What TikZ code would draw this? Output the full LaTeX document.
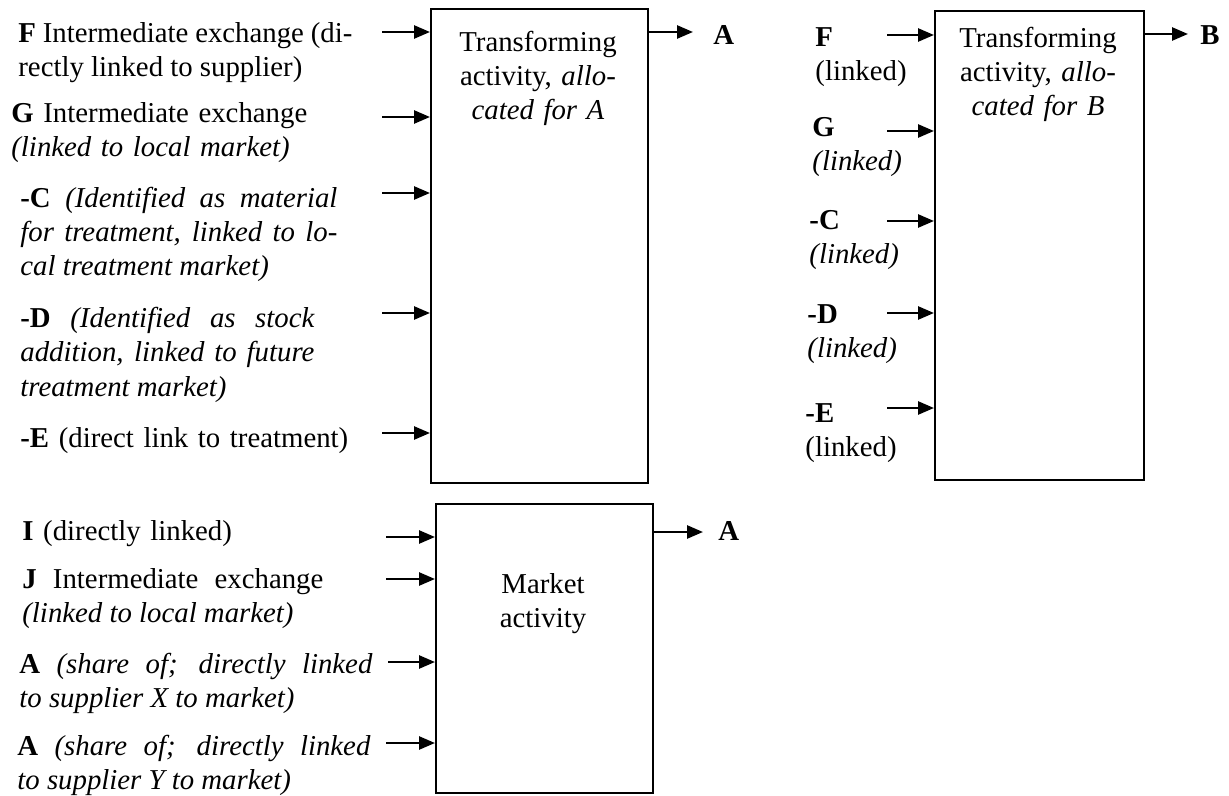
\documentclass[tikz,border=0pt]{standalone}
\usepackage{fontspec}
\setmainfont{Liberation Serif}
\usetikzlibrary{arrows.meta}

\tikzset{
    actbox/.style={draw=black, line width=1pt, inner sep=0pt, anchor=north west},
    lbl/.style={inner sep=0pt, anchor=base west, align=left, text width=#1},
    lbl/.default=60pt,
    jlbl/.style={inner sep=0pt, anchor=base west, align=justify, text width=#1},
    ttl/.style={inner sep=0pt, anchor=base, align=center, text width=#1},
    ttl/.default=100pt,
    arr/.style={line width=1.3pt, -{Triangle[length=8pt,width=6.5pt]}}
}

\begin{document}
\begin{tikzpicture}[x=0.5pt, y=-0.5pt, font=\fontsize{14.4pt}{17pt}\selectfont]
    \useasboundingbox (0,0) rectangle (1229,796);

    % transforming activity, allocated for A
    \node [actbox, minimum width=108.5pt, minimum height=237pt] (trA) at (430,8) {};
    \node [ttl] (trAtitle) at (538,52)
          {Transforming\\activity, \textit{allo-}\\\textit{cated for A}};

    \node [jlbl=167pt] (aF) at (18,43)
          {\textbf{F} Intermediate exchange (di-\linebreak rectly linked to supplier)};
    \node [lbl=170pt] (aG) at (11,123)
          {\textbf{G} Intermediate exchange\\\textit{(linked to local market)}};
    \node [jlbl=158.5pt] (aC) at (20,208)
          {\textbf{-C} \textit{(Identified as material\linebreak for treatment, linked to lo-\linebreak cal treatment market)}};
    \node [jlbl=147pt] (aD) at (20,328)
          {\textbf{-D} \textit{(Identified as stock\linebreak addition, linked to future\linebreak treatment market)}};
    \node [lbl=180pt] (aE) at (20,447) {\textbf{-E} (direct link to treatment)};
    \node [lbl] (outA) at (713,45) {\textbf{A}};

    \coordinate (inAF) at (382,32);
    \coordinate (inAG) at (382,117);
    \coordinate (inAC) at (382,193);
    \coordinate (inAD) at (382,313);
    \coordinate (inAE) at (382,433);
    \coordinate (endA) at (693,32);
    \draw [arr] (inAF) -- (inAF -| trA.west);
    \draw [arr] (inAG) -- (inAG -| trA.west);
    \draw [arr] (inAC) -- (inAC -| trA.west);
    \draw [arr] (inAD) -- (inAD -| trA.west);
    \draw [arr] (inAE) -- (inAE -| trA.west);
    \draw [arr] (endA -| trA.east) -- (endA);

    % transforming activity, allocated for B
    \node [actbox, minimum width=104.5pt, minimum height=234.5pt] (trB) at (934,10) {};
    \node [ttl] (trBtitle) at (1038,48)
          {Transforming\\activity, \textit{allo-}\\\textit{cated for B}};

    \node [lbl] (bF) at (815,47) {\textbf{F}\\(linked)};
    \node [lbl] (bG) at (812,137) {\textbf{G}\\\textit{(linked)}};
    \node [lbl] (bC) at (809,230) {\textbf{-C}\\\textit{(linked)}};
    \node [lbl] (bD) at (807,323) {\textbf{-D}\\\textit{(linked)}};
    \node [lbl] (bE) at (805,422) {\textbf{-E}\\(linked)};
    \node [lbl] (outB) at (1200,45) {\textbf{B}};

    \coordinate (inBF) at (887,35);
    \coordinate (inBG) at (887,131);
    \coordinate (inBC) at (887,221);
    \coordinate (inBD) at (887,313);
    \coordinate (inBE) at (887,408);
    \coordinate (endB) at (1188,34);
    \draw [arr] (inBF) -- (inBF -| trB.west);
    \draw [arr] (inBG) -- (inBG -| trB.west);
    \draw [arr] (inBC) -- (inBC -| trB.west);
    \draw [arr] (inBD) -- (inBD -| trB.west);
    \draw [arr] (inBE) -- (inBE -| trB.west);
    \draw [arr] (endB -| trB.east) -- (endB);

    % market activity
    \node [actbox, minimum width=108.5pt, minimum height=144.5pt] (mkt) at (435,503) {};
    \node [ttl] (mkttitle) at (543,593) {Market\\activity};

    \node [lbl=180pt] (mI) at (22,540) {\textbf{I} (directly linked)};
    \node [jlbl=150.5pt] (mJ) at (22,588)
          {\textbf{J} Intermediate exchange\linebreak\textit{(linked to local market)}};
    \node [jlbl=176.5pt] (mAX) at (19,673)
          {\textbf{A} \textit{(share of; directly linked\linebreak to supplier X to market)}};
    \node [jlbl=176.5pt] (mAY) at (17,755)
          {\textbf{A} \textit{(share of; directly linked\linebreak to supplier Y to market)}};
    \node [lbl] (outM) at (718,540) {\textbf{A}};

    \coordinate (inMI) at (386,537);
    \coordinate (inMJ) at (386,579);
    \coordinate (inMX) at (388,662);
    \coordinate (inMY) at (386,743);
    \coordinate (endM) at (703,532);
    \draw [arr] (inMI) -- (inMI -| mkt.west);
    \draw [arr] (inMJ) -- (inMJ -| mkt.west);
    \draw [arr] (inMX) -- (inMX -| mkt.west);
    \draw [arr] (inMY) -- (inMY -| mkt.west);
    \draw [arr] (endM -| mkt.east) -- (endM);
\end{tikzpicture}
\end{document}
